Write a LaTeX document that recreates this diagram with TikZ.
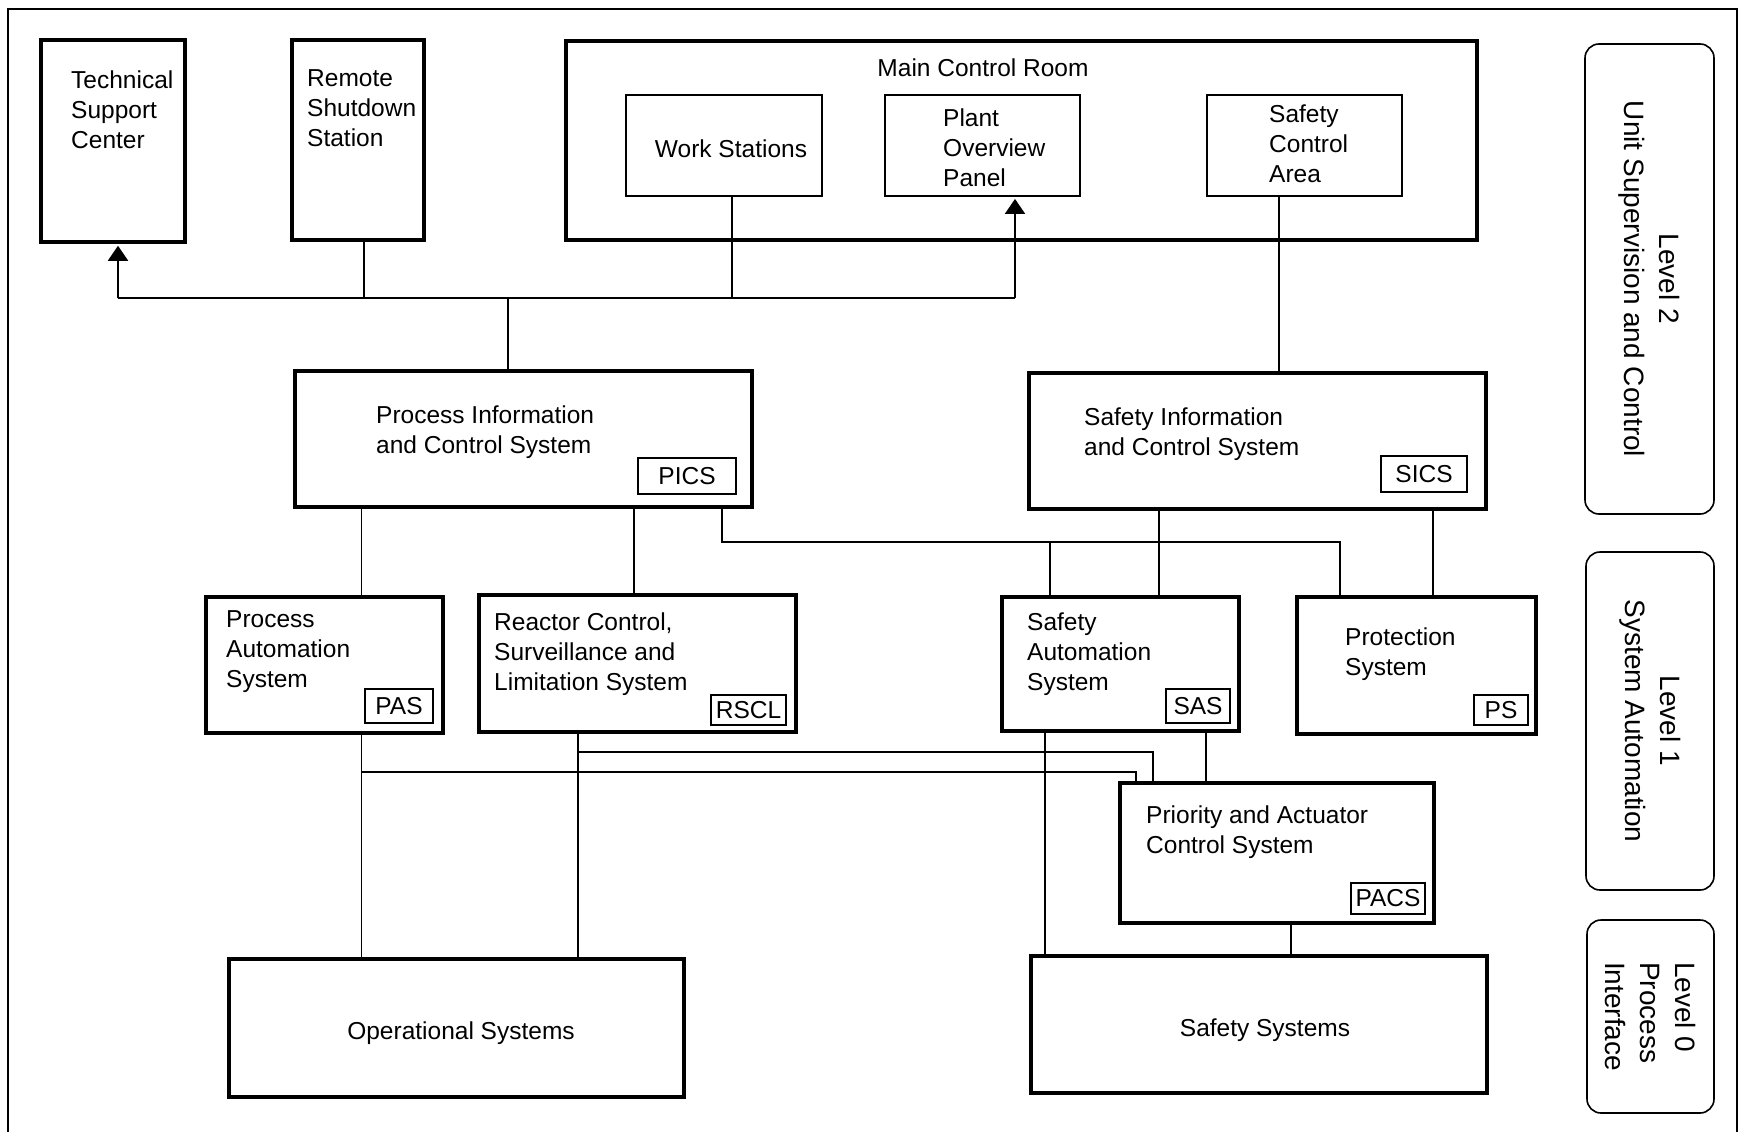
\documentclass[tikz,border=0pt]{standalone}
\usepackage{fontspec}
\setmainfont{Liberation Sans}
\usetikzlibrary{arrows.meta}
\newcommand{\bx}[6]{\node[#2, minimum width={#5-#3}, minimum height={#6-#4}] (#1) at ({(#3+#5)/2},{(#4+#6)/2}) {};}
\begin{document}
\begin{tikzpicture}[x=1pt,y=-1pt,
  thickbox/.style={draw, line width=3.5pt, inner sep=0pt, rectangle},
  thinbox/.style={draw, line width=1.8pt, inner sep=0pt, rectangle},
  tagbox/.style={draw, line width=1.6pt, inner sep=0pt, rectangle},
  lbl/.style={inner sep=0pt, align=left, font=\fontsize{24.5}{30}\selectfont},
  wire/.style={line width=1.8pt},
  lvl/.style={draw, line width=1.6pt, rounded corners=14pt, inner sep=0pt, rectangle},
  lvltext/.style={rotate=-90, inner sep=0pt, font=\fontsize{28}{35}\selectfont},
  arr/.style={-{Triangle[width=20pt,length=15pt]}, line width=1.8pt, shorten >=2pt}
]
\fill[white] (0,0) rectangle (1741,1132);
\useasboundingbox (0,0) rectangle (1741,1132);
\draw[line width=2pt] (8,1132) -- (8,9.5) -- (1737,9.5) -- (1737,1132);

% Level 2 boxes (text nodes anchored at baseline of their last line)
\bx{tsc}{thickbox}{41}{40}{185}{242}
\node[lbl, anchor=base west] (tscT) at (71,148) {Technical\\Support\\Center};
\bx{rss}{thickbox}{292}{40}{424}{240}
\node[lbl, anchor=base west] (rssT) at (307,146) {Remote\\Shutdown\\Station};
\bx{mcr}{thickbox}{566}{41}{1477}{240}
\node[lbl, anchor=base] (mcrT) at (983,77) {Main Control Room};
\bx{ws}{thinbox}{626}{95}{822}{196}
\node[lbl, anchor=base] (wsT) at (731,157) {Work Stations};
\bx{pop}{thinbox}{885}{95}{1080}{196}
\node[lbl, anchor=base west] (popT) at (943,186) {Plant\\Overview\\Panel};
\bx{sca}{thinbox}{1207}{95}{1402}{196}
\node[lbl, anchor=base west] (scaT) at (1269,182) {Safety\\Control\\Area};

\bx{pics}{thickbox}{295}{371}{752}{507}
\node[lbl, anchor=base west] (picsT) at (376,453) {Process Information\\and Control System};
\bx{picsG}{tagbox}{638}{458}{736}{494}
\node[lbl] (picsGT) at (picsG) {PICS};

\bx{sics}{thickbox}{1029}{373}{1486}{509}
\node[lbl, anchor=base west] (sicsT) at (1084,455) {Safety Information\\and Control System};
\bx{sicsG}{tagbox}{1381}{456}{1467}{492}
\node[lbl] (sicsGT) at (sicsG) {SICS};

% Level 1
\bx{pas}{thickbox}{206}{597}{443}{733}
\node[lbl, anchor=base west] (pasT) at (226,687) {Process\\Automation\\System};
\bx{pasG}{tagbox}{365}{689}{433}{723}
\node[lbl] (pasGT) at (pasG) {PAS};

\bx{rscl}{thickbox}{479}{595}{796}{732}
\node[lbl, anchor=base west] (rsclT) at (494,690) {Reactor Control,\\Surveillance and\\Limitation System};
\bx{rsclG}{tagbox}{711}{695}{786}{725}
\node[lbl] (rsclGT) at (rsclG) {RSCL};

\bx{sas}{thickbox}{1002}{597}{1239}{731}
\node[lbl, anchor=base west] (sasT) at (1027,690) {Safety\\Automation\\System};
\bx{sasG}{tagbox}{1166}{689}{1230}{723}
\node[lbl] (sasGT) at (sasG) {SAS};

\bx{ps}{thickbox}{1297}{597}{1536}{734}
\node[lbl, anchor=base west] (psT) at (1345,675) {Protection\\System};
\bx{psG}{tagbox}{1474}{695}{1528}{725}
\node[lbl] (psGT) at (psG) {PS};

\bx{pacs}{thickbox}{1120}{783}{1434}{923}
\node[lbl, anchor=base west] (pacsT) at (1146,853) {Priority and Actuator\\Control System};
\bx{pacsG}{tagbox}{1351}{883}{1425}{914}
\node[lbl] (pacsGT) at (pacsG) {PACS};

% Level 0
\bx{os}{thickbox}{229}{959}{684}{1097}
\node[lbl, anchor=base] (osT) at (461,1039) {Operational Systems};
\bx{ss}{thickbox}{1031}{956}{1487}{1093}
\node[lbl, anchor=base] (ssT) at (1265,1036) {Safety Systems};

% Level labels
\bx{lv2}{lvl}{1585}{44}{1714}{514}
\node[lvltext, align=center] (lv2T) at (lv2) {Level 2\\Unit Supervision and Control};
\bx{lv1}{lvl}{1586}{552}{1714}{890}
\node[lvltext, align=center] (lv1T) at (lv1) {Level 1\\System Automation};
\bx{lv0}{lvl}{1587}{920}{1714}{1113}
\node[lvltext, align=left] (lv0T) at (lv0) {Level 0\\Process\\Interface};

% coordinates
\coordinate (yBus) at (0,298);
\coordinate (xTSC) at (118,0);
\coordinate (xRSS) at (364,0);
\coordinate (xWS) at (732,0);
\coordinate (xPICSup) at (508,0);
\coordinate (xPOP) at (1015,0);
\coordinate (xSCA) at (1279,0);
\coordinate (yMid) at (0,542);
\coordinate (xPAS) at (361.5,0);
\coordinate (xRSCL) at (634,0);
\coordinate (xPS1) at (722,0);
\coordinate (xSASb) at (1050,0);
\coordinate (xPSb) at (1340,0);
\coordinate (xSICSsas) at (1159,0);
\coordinate (xSICSps) at (1433,0);
\coordinate (xRSCLb) at (578,0);
\coordinate (yLow1) at (0,752);
\coordinate (yLow2) at (0,772);
\coordinate (xPACS1) at (1136,0);
\coordinate (xPACS2) at (1153,0);
\coordinate (xSASl) at (1045,0);
\coordinate (xSASr) at (1206,0);
\coordinate (xPACSb) at (1291,0);

% top connectors
\draw[wire] (xTSC |- yBus) -- (xPOP |- yBus);
\draw[arr] (xTSC |- yBus) -- (tsc.south -| xTSC);
\draw[arr] (xPOP |- yBus) -- (pop.south -| xPOP);
\draw[wire] (rss.south -| xRSS) -- (xRSS |- yBus);
\draw[wire] (ws.south -| xWS) -- (xWS |- yBus);
\draw[wire] (pics.north -| xPICSup) -- (xPICSup |- yBus);
\draw[wire] (sca.south -| xSCA) -- (sics.north -| xSCA);

% middle connectors
\draw[wire] (pics.south -| xPAS) -- (pas.north -| xPAS);
\draw[wire] (pics.south -| xRSCL) -- (rscl.north -| xRSCL);
\draw[wire] (pics.south -| xPS1) -- (xPS1 |- yMid) -- (xPSb |- yMid) -- (ps.north -| xPSb);
\draw[wire] (xSASb |- yMid) -- (sas.north -| xSASb);
\draw[wire] (sics.south -| xSICSsas) -- (sas.north -| xSICSsas);
\draw[wire] (sics.south -| xSICSps) -- (ps.north -| xSICSps);

% lower connectors
\draw[wire] (pas.south -| xPAS) -- (os.north -| xPAS);
\draw[wire] (xPAS |- yLow2) -- (xPACS1 |- yLow2) -- (pacs.north -| xPACS1);
\draw[wire] (rscl.south -| xRSCLb) -- (os.north -| xRSCLb);
\draw[wire] (xRSCLb |- yLow1) -- (xPACS2 |- yLow1) -- (pacs.north -| xPACS2);
\draw[wire] (sas.south -| xSASl) -- (ss.north -| xSASl);
\draw[wire] (sas.south -| xSASr) -- (pacs.north -| xSASr);
\draw[wire] (pacs.south -| xPACSb) -- (ss.north -| xPACSb);
\end{tikzpicture}
\end{document}
